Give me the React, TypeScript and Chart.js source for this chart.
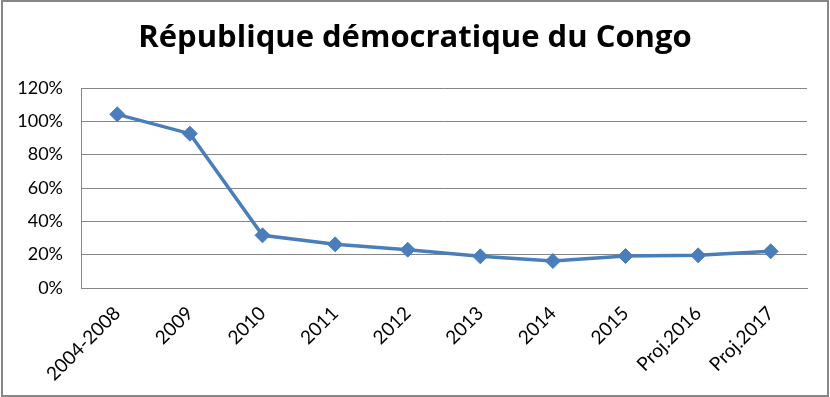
import React, { useEffect, useRef } from "react";
import { Chart, registerables } from "chart.js";

Chart.register(...registerables);

const TITLE = "République démocratique du Congo";
const CATEGORIES = ["2004-2008", "2009", "2010", "2011", "2012", "2013", "2014", "2015", "Proj.2016", "Proj.2017"];
const VALUES = [104.2, 92.6, 31.6, 26.2, 23.0, 19.0, 16.2, 19.2, 19.6, 22.0];
const Y_MIN = 0;
const Y_MAX = 120;
const Y_STEP = 20;

const FONT = "Lato, 'Liberation Sans', sans-serif";
const TITLE_FONT = "'Open Sans', 'Liberation Sans', sans-serif";
const GRID = "#868686";
const LINE = "#4A7EBB";

const framePlugin = {
  id: "frame",
  beforeDraw(chart: any) {
    const { ctx, width, height } = chart;
    ctx.save();
    ctx.fillStyle = "#ffffff";
    ctx.fillRect(0, 0, width, height);
    ctx.restore();
  },
  afterDraw(chart: any) {
    const { ctx, width, height } = chart;
    ctx.save();
    ctx.strokeStyle = GRID;
    ctx.lineWidth = 2;
    ctx.strokeRect(2, 1, width - 4, height - 2);
    ctx.restore();
  },
};

export default function App() {
  const ref = useRef<HTMLCanvasElement>(null);
  useEffect(() => {
    if (!ref.current) return;
    const chart = new Chart(ref.current, {
      type: "line",
      data: {
        labels: CATEGORIES,
        datasets: [
          {
            data: VALUES,
            borderColor: LINE,
            backgroundColor: LINE,
            borderWidth: 3.5,
            pointStyle: "rectRot",
            pointRadius: 7.5,
            pointBorderWidth: 1,
            pointBackgroundColor: LINE,
            pointBorderColor: LINE,
            tension: 0,
            yAxisID: "y",
          },
        ],
      },
      options: {
        responsive: false,
        animation: false,
        layout: { padding: 0 },
        plugins: {
          legend: { display: false },
          tooltip: { enabled: false },
          title: {
            display: true,
            text: TITLE,
            color: "#000000",
            font: { family: TITLE_FONT, size: 31, weight: "bold" },
            padding: { top: 20, bottom: 30.8 },
          },
        },
        scales: {
          x: {
            offset: true,
            grid: { display: false, drawTicks: false },
            border: { display: true, color: GRID, width: 1 },
            ticks: {
              color: "#000000",
              font: { family: FONT, size: 19 },
              minRotation: 45,
              maxRotation: 45,
              padding: 14,
              autoSkip: false,
            },
            afterFit(scale: any) {
              scale.height = 109;
            },
          },
          y: {
            position: "left",
            min: Y_MIN,
            max: Y_MAX,
            grid: { color: GRID, lineWidth: 1, drawTicks: false },
            border: { display: true, color: GRID, width: 1 },
            ticks: {
              stepSize: Y_STEP,
              color: "#000000",
              font: { family: FONT, size: 18 },
              padding: 18,
              callback: (v: any) => v + "%",
            },
            afterFit(scale: any) {
              scale.width = 81;
            },
          },
          yRight: {
            position: "right",
            min: Y_MIN,
            max: Y_MAX,
            grid: { display: false, drawTicks: false },
            border: { display: false },
            ticks: { display: false },
            afterFit(scale: any) {
              scale.width = 23;
            },
          },
        },
      },
      plugins: [framePlugin],
    });
    return () => chart.destroy();
  }, []);
  return (
    <div style={{ position: "fixed", left: 0, top: 0, width: 830, height: 397 }}>
      <canvas ref={ref} width={830} height={397} />
    </div>
  );
}
